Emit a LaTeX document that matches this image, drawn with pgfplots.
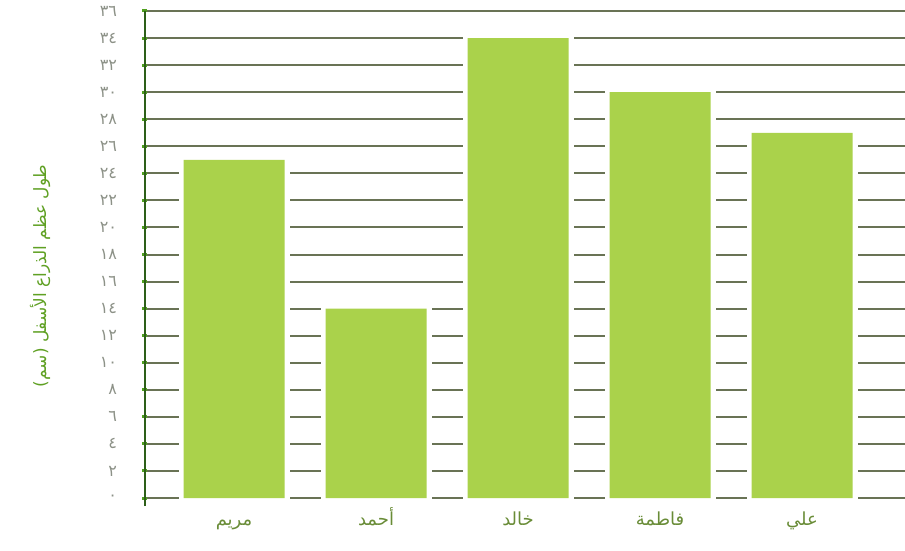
\documentclass[border=0pt]{standalone}
\usepackage{pgfplots}
\pgfplotsset{compat=1.18}
\usepackage{fontspec}
\TeXXeTstate=1
\newfontfamily\arabicfont[Script=Arabic]{DejaVu Sans}
\definecolor{barG}{RGB}{170,210,75}
\definecolor{axisG}{RGB}{45,95,25}
\definecolor{tickG}{RGB}{80,160,30}
\definecolor{gridC}{RGB}{105,115,85}
\definecolor{tickTxt}{RGB}{140,145,135}
\definecolor{xlabC}{RGB}{105,140,55}
\definecolor{ylabC}{RGB}{95,160,35}
\begin{document}
\begin{tikzpicture}
\path[use as bounding box] (-145pt,-44pt) rectangle (760pt,506pt);
\begin{axis}[
  at={(0,0)}, anchor=south west,
  scale only axis, width=760pt, height=495pt,
  xmin=-0.627, xmax=4.725, ymin=-0.59, ymax=36,
  clip=false,
  axis lines*=left,
  x axis line style={draw=none},
  y axis line style={draw=axisG, line width=2pt},
  xtick={0,1,2,3,4},
  xticklabels={{\arabicfont\beginR مريم\endR},{\arabicfont\beginR أحمد\endR},{\arabicfont\beginR خالد\endR},{\arabicfont\beginR فاطمة\endR},{\arabicfont\beginR علي\endR}},
  xticklabel style={font=\fontsize{18}{20}\selectfont, text=xlabC, text height=15pt, text depth=6pt, anchor=north, yshift=-1pt},
  x tick style={draw=none},
  ytick={0,2,...,36},
  yticklabels={٠,٢,٤,٦,٨,١٠,١٢,١٤,١٦,١٨,٢٠,٢٢,٢٤,٢٦,٢٨,٣٠,٣٢,٣٤,٣٦},
  yticklabel style={font=\arabicfont\fontsize{16}{18}\selectfont, text=tickTxt, xshift=-22pt},
  y tick style={draw=tickG, line width=3pt},
  major tick length=5pt,
  ytick align=center,
  ymajorgrids,
  grid style={draw=gridC, line width=2pt},
  ylabel={\arabicfont\beginR طول عظم الذراع الأسفل (سم)\endR},
  ylabel style={at={(axis description cs:-0.138,0.465)}, anchor=center, font=\fontsize{17}{19}\selectfont, text=ylabC},
]
\addplot[ybar, bar width=101pt, bar shift=0pt, fill=barG, draw=none,
  preaction={draw=white, line width=10pt}]
  coordinates {(0,25) (1,14) (2,34) (3,30) (4,27)};
\end{axis}
\end{tikzpicture}
\end{document}
